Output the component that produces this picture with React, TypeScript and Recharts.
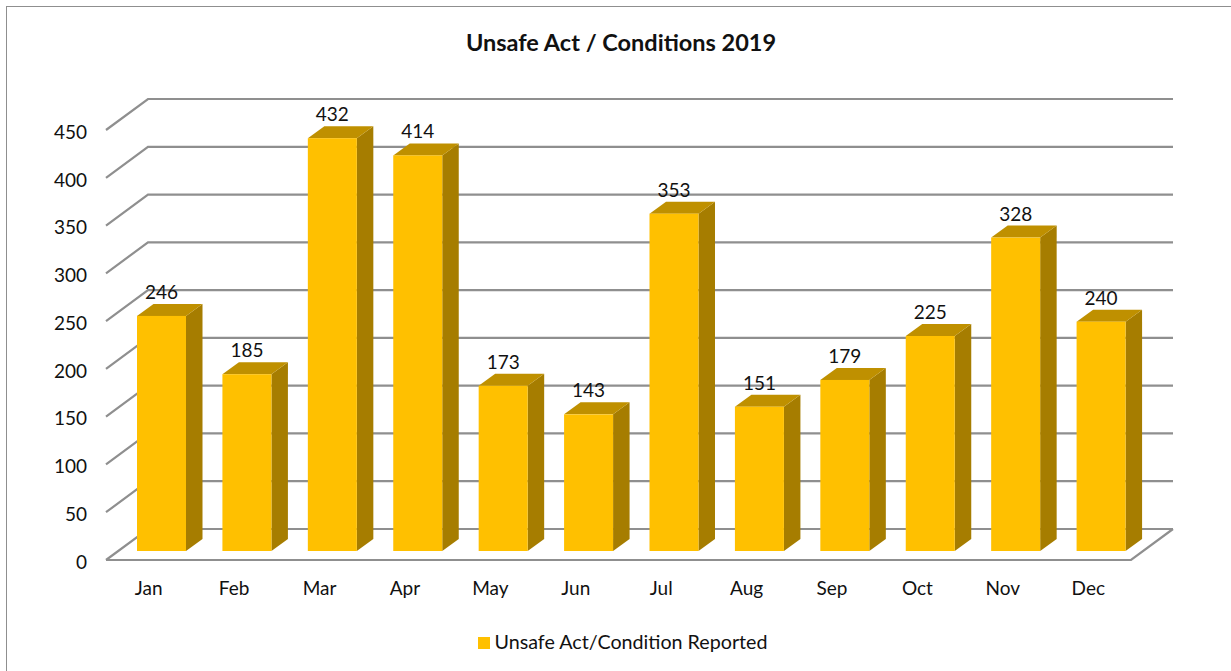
import { Bar, BarChart, CartesianGrid, LabelList, Legend, XAxis, YAxis } from "recharts";

const months = ["Jan", "Feb", "Mar", "Apr", "May", "Jun", "Jul", "Aug", "Sep", "Oct", "Nov", "Dec"];
const reported = [246, 185, 432, 414, 173, 143, 353, 151, 179, 225, 328, 240];
const yTicks = [0, 50, 100, 150, 200, 250, 300, 350, 400, 450];

const data = months.map((m, i) => ({ month: m, reported: reported[i] }));

const FONT = "Lato, 'Open Sans', sans-serif";
const GRID = "#8f8f8f";

// depth of the floor, and where the bars sit on it
const FLOOR_DX = 42;
const FLOOR_DY = 31;
const BAR_DX = 13;
const BAR_DY = 9;
const SIDE_DX = 16.5;
const SIDE_DY = 12;

function GridLine(props: any) {
  const { x1, x2, y1, index } = props;
  const backY = y1 - FLOOR_DY;
  const isFloor = index === 0 || Math.abs(y1 - 560) < 1;
  return (
    <g fill="none" stroke={GRID} strokeWidth={2.2}>
      <polyline points={`${x1},${y1} ${x1 + FLOOR_DX},${backY} ${x2 + FLOOR_DX},${backY}`} />
      {isFloor && <polyline points={`${x1},${y1} ${x2},${y1} ${x2 + FLOOR_DX},${backY}`} />}
    </g>
  );
}

function Bar3D(props: any) {
  const { x, y, width, height } = props;
  const l = x + BAR_DX;
  const r = l + width;
  const t = y - BAR_DY;
  const b = t + height;
  return (
    <g>
      <polygon points={`${r},${t} ${r + SIDE_DX},${t - SIDE_DY} ${r + SIDE_DX},${b - SIDE_DY} ${r},${b}`} fill="#a67d00" />
      <polygon points={`${l},${t} ${l + SIDE_DX},${t - SIDE_DY} ${r + SIDE_DX},${t - SIDE_DY} ${r},${t}`} fill="#bf9000" />
      <rect x={l} y={t} width={width} height={height} fill="#ffc000" />
    </g>
  );
}

function BarValue(props: any) {
  const { x, y, width, value } = props;
  return (
    <text x={x + BAR_DX + width / 2} y={y - BAR_DY - 17} textAnchor="middle" fontFamily={FONT} fontSize={19} fill="#111">
      {value}
    </text>
  );
}

export default function App() {
  return (
    <div style={{ position: "absolute", left: 0, top: 0, width: 1231, height: 671, overflow: "hidden", background: "#fff" }}>
      <div style={{ position: "absolute", left: 6, top: 6, width: 1300, height: 700, borderTop: "1px solid #8f8f8f", borderLeft: "1px solid #8f8f8f" }} />
      <BarChart
        width={1231}
        height={671}
        data={data}
        margin={{ top: 130, right: 100, bottom: 71, left: 0 }}
        style={{ position: "absolute", left: 0, top: 0 }}
      >
        <text x={621} y={51} textAnchor="middle" fontFamily={FONT} fontWeight={700} fontSize={23.5} fill="#111">
          Unsafe Act / Conditions 2019
        </text>
        <CartesianGrid vertical={false} horizontal={GridLine} syncWithTicks />
        <XAxis
          dataKey="month"
          height={40}
          axisLine={false}
          tickLine={false}
          tickMargin={16}
          tick={{ fontFamily: FONT, fontSize: 19, fill: "#111" }}
        />
        <YAxis
          width={106}
          domain={[0, 450]}
          ticks={yTicks}
          interval={0}
          axisLine={false}
          tickLine={false}
          tickMargin={13}
          tick={{ fontFamily: FONT, fontSize: 19, fill: "#111", dy: 2 }}
        />
        <Legend
          verticalAlign="middle"
          align="center"
          iconType="square"
          iconSize={12}
          formatter={(v) => <span style={{ color: "#111", fontFamily: FONT, fontSize: 19.7, position: "relative", top: 2, left: 1 }}>{v}</span>}
          wrapperStyle={{ left: 467, top: 628, width: 320 }}
        />
        <Bar dataKey="reported" name="Unsafe Act/Condition Reported" fill="#ffc000" barSize={49} shape={Bar3D} isAnimationActive={false}>
          <LabelList dataKey="reported" content={BarValue} />
        </Bar>
      </BarChart>
    </div>
  );
}
